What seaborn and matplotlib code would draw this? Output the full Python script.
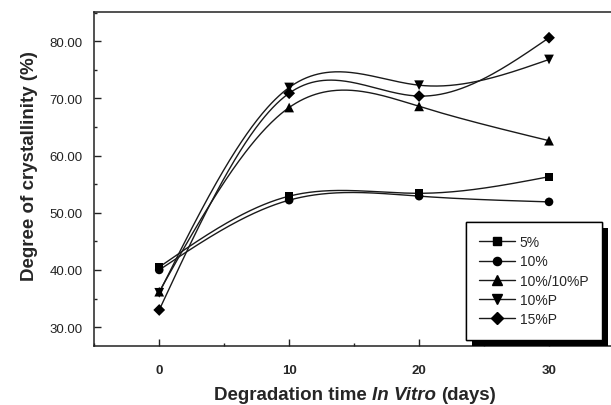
import numpy as np
import pandas as pd
import matplotlib
matplotlib.use("Agg")
import matplotlib.pyplot as plt
import seaborn as sns
from matplotlib.lines import Line2D
from matplotlib.ticker import MultipleLocator, FormatStrFormatter
from matplotlib.offsetbox import TextArea, HPacker, AnchoredOffsetbox
import matplotlib.patheffects as pe

# ---- data ----
days = [0, 10, 20, 30]
s5 = [40.5, 52.9, 53.4, 56.3]
s10 = [40.0, 52.2, 52.9, 51.9]
s10_10P = [36.2, 68.4, 68.6, 62.6]
s10P = [36.0, 71.9, 72.3, 76.8]
s15P = [33.0, 70.9, 70.4, 80.6]
series_names = ["5%", "10%", "10%/10%P", "10%P", "15%P"]
series_vals = [s5, s10, s10_10P, s10P, s15P]
marker_list = ["s", "o", "^", "v", "D"]
marker_sizes = [6.0, 6.2, 7.0, 7.0, 6.0]
x_ticks = [0, 10, 20, 30]
y_ticks = [30, 40, 50, 60, 70, 80]

sns.set_theme(style="ticks")
plt.rcParams["font.family"] = ["Liberation Sans", "DejaVu Sans"]


def natural_spline(x, y, n=300):
    x = np.asarray(x, float)
    y = np.asarray(y, float)
    k = len(x)
    h = np.diff(x)
    A = np.zeros((k, k))
    b = np.zeros(k)
    A[0, 0] = 1
    A[-1, -1] = 1
    for i in range(1, k - 1):
        A[i, i - 1] = h[i - 1]
        A[i, i] = 2 * (h[i - 1] + h[i])
        A[i, i + 1] = h[i]
        b[i] = 6 * ((y[i + 1] - y[i]) / h[i] - (y[i] - y[i - 1]) / h[i - 1])
    M = np.linalg.solve(A, b)
    xs = np.linspace(x[0], x[-1], n)
    idx = np.clip(np.searchsorted(x, xs) - 1, 0, k - 2)
    x0, x1 = x[idx], x[idx + 1]
    hh = x1 - x0
    t0 = x1 - xs
    t1 = xs - x0
    ys = (M[idx] * t0 ** 3 / (6 * hh) + M[idx + 1] * t1 ** 3 / (6 * hh)
          + (y[idx] / hh - M[idx] * hh / 6) * t0
          + (y[idx + 1] / hh - M[idx + 1] * hh / 6) * t1)
    return xs, ys


pts = pd.DataFrame([(n, d, v) for n, vals in zip(series_names, series_vals)
                    for d, v in zip(days, vals)], columns=["series", "day", "value"])
curves = []
for n, vals in zip(series_names, series_vals):
    xs, ys = natural_spline(days, vals)
    curves.append(pd.DataFrame({"series": n, "day": xs, "value": ys}))
curves = pd.concat(curves, ignore_index=True)

W, H = 611, 406
fig = plt.figure(figsize=(W / 100, H / 100), dpi=100)
ax = fig.add_axes([94 / W, 59 / H, 517 / W, 334 / H])

sns.lineplot(data=curves, x="day", y="value", hue="series",
             palette={n: "#1a1a1a" for n in series_names}, linewidth=1.0,
             legend=False, ax=ax, sort=False, estimator=None)
for n, m, ms in zip(series_names, marker_list, marker_sizes):
    sub = pts[pts.series == n]
    sns.scatterplot(data=sub, x="day", y="value", marker=m, s=ms ** 2,
                    color="black", edgecolor="none", ax=ax, zorder=5, legend=False)

ax.set_xlim(-5.02, 34.77)
ax.set_ylim(26.7, 85.1)
ax.set_xticks(x_ticks)
ax.set_yticks(y_ticks)
ax.xaxis.set_minor_locator(MultipleLocator(5))
ax.yaxis.set_minor_locator(MultipleLocator(5))
ax.yaxis.set_major_formatter(FormatStrFormatter("%.2f"))
ax.tick_params(which="major", direction="in", length=5, width=1.0, color="#222")
ax.tick_params(which="minor", direction="in", length=2.5, width=1.0, color="#222")
ax.tick_params(axis="y", labelsize=9.5, pad=8, labelcolor="#222")
ax.tick_params(axis="x", labelsize=9.5, pad=13)
for lab in ax.get_xticklabels():
    lab.set_fontweight("bold")
ax.spines["right"].set_visible(False)
for s in ["left", "top", "bottom"]:
    ax.spines[s].set_linewidth(1.1)
    ax.spines[s].set_color("#222")
ax.set_xlabel("")
ax.set_ylabel("")

fig.text(30 / W, 1 - 166 / H, "Degree of crystallinity (%)", rotation=90,
         ha="center", va="center", fontsize=13.5, fontweight="bold")

parts = [TextArea("Degradation time", textprops=dict(fontsize=13.5, fontweight="bold")),
         TextArea("In Vitro", textprops=dict(fontsize=13.5, fontweight="bold", fontstyle="italic")),
         TextArea("(days)", textprops=dict(fontsize=13.5, fontweight="bold"))]
box = HPacker(children=parts, pad=0, sep=3.5, align="baseline")
anch = AnchoredOffsetbox(loc="center", child=box, pad=0, frameon=False,
                         bbox_to_anchor=(355 / W, 1 - 396 / H),
                         bbox_transform=fig.transFigure, borderpad=0)
fig.add_artist(anch)

handles = [Line2D([0], [0], color="#1a1a1a", lw=1.0, marker=m, markersize=ms * 0.95,
                  markerfacecolor="black", markeredgecolor="black")
           for m, ms in zip(marker_list, marker_sizes)]
leg = fig.legend(handles, series_names, loc="upper left",
                 bbox_to_anchor=(465.7 / W, 1 - 223 / H), borderaxespad=0,
                 frameon=True, fancybox=False, fontsize=10, handlelength=2.6,
                 handletextpad=0.35, labelspacing=0.38, borderpad=0.95)
frame = leg.get_frame()
frame.set_edgecolor("black")
frame.set_linewidth(1.0)
frame.set_facecolor("white")
frame.set_alpha(1)
frame.set_path_effects([pe.withSimplePatchShadow(offset=(4.5, -4.5), shadow_rgbFace="black",
                                                  alpha=1.0), pe.Normal()])

fig.savefig("out.png", dpi=100)
